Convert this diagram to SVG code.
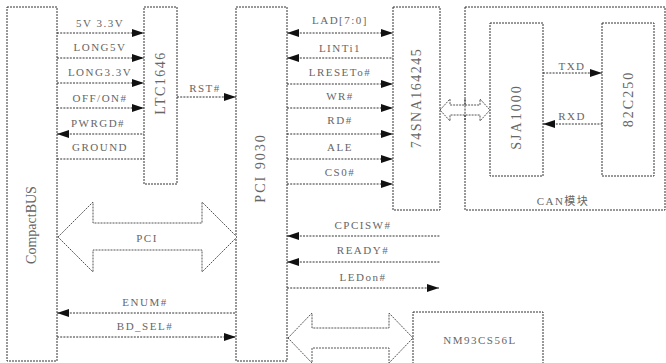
<svg xmlns="http://www.w3.org/2000/svg" width="666" height="363" viewBox="0 0 666 363">
<style>
.box{fill:none;stroke:#333;stroke-width:1;stroke-dasharray:2 1}
.ln{fill:none;stroke:#333;stroke-width:1;stroke-dasharray:2 1.2}
.bus{fill:#fff;stroke:#555;stroke-width:1;stroke-dasharray:2 1}
.t{font-family:"Liberation Serif","Noto Sans CJK SC",serif;font-size:11px;letter-spacing:1.5px;fill:#666;text-anchor:middle}
.v{font-family:"Liberation Serif",serif;font-size:14px;fill:#666;text-anchor:middle}
</style>
<defs>
<marker id="ah" viewBox="0 0 12 8" refX="12" refY="4" markerWidth="12" markerHeight="8" markerUnits="userSpaceOnUse" orient="auto-start-reverse">
<path d="M0,0 L12,4 L0,8 z" fill="#111"/>
</marker>
</defs>
<rect width="666" height="363" fill="#fff"/>

<g id="compactbus">
<rect class="box" x="7" y="7" width="50" height="354"/>
<text class="v" transform="translate(36,225) rotate(-90)">CompactBUS</text>
</g>
<g id="ltc1646">
<rect class="box" x="144" y="7" width="33" height="177"/>
<text class="v" letter-spacing="1.5" transform="translate(165,83) rotate(-90)">LTC1646</text>
</g>
<g id="pci9030">
<rect class="box" x="236" y="7" width="51" height="354"/>
<text class="v" letter-spacing="2" transform="translate(265,168) rotate(-90)">PCI 9030</text>
</g>
<g id="sna164245">
<rect class="box" x="393" y="7" width="47" height="203"/>
<text class="v" letter-spacing="1.5" transform="translate(421,98) rotate(-90)">74SNA164245</text>
</g>
<g id="canmodule">
<rect class="box" x="465" y="7" width="200" height="203"/>
<text class="t" x="563" y="205" font-size="13">CAN模块</text>
</g>
<g id="sja1000">
<rect class="box" x="490" y="23" width="53" height="153"/>
<text class="v" letter-spacing="2" transform="translate(521,117) rotate(-90)">SJA1000</text>
</g>
<g id="c82c250">
<rect class="box" x="602" y="23" width="52" height="153"/>
<text class="v" letter-spacing="2" transform="translate(633,99) rotate(-90)">82C250</text>
</g>
<g id="nm93cs56l">
<rect class="box" x="413" y="312" width="130" height="52"/>
<text class="t" x="480" y="344" font-size="12" letter-spacing="2">NM93CS56L</text>
</g>

<g id="connectors">
<line class="ln" x1="57" y1="33" x2="144" y2="33" marker-end="url(#ah)"/>
<line class="ln" x1="57" y1="58" x2="144" y2="58" marker-end="url(#ah)"/>
<line class="ln" x1="57" y1="83" x2="144" y2="83" marker-end="url(#ah)"/>
<line class="ln" x1="57" y1="108" x2="144" y2="108" marker-end="url(#ah)"/>
<line class="ln" x1="57" y1="134" x2="144" y2="134" marker-start="url(#ah)"/>
<line class="ln" x1="57" y1="159" x2="144" y2="159"/>
<line class="ln" x1="177" y1="97" x2="236" y2="97" marker-end="url(#ah)"/>
<line class="ln" x1="287" y1="33" x2="393" y2="33" marker-start="url(#ah)" marker-end="url(#ah)"/>
<line class="ln" x1="287" y1="58" x2="393" y2="58" marker-start="url(#ah)"/>
<line class="ln" x1="287" y1="84" x2="393" y2="84" marker-end="url(#ah)"/>
<line class="ln" x1="287" y1="108" x2="393" y2="108" marker-end="url(#ah)"/>
<line class="ln" x1="287" y1="134" x2="393" y2="134" marker-end="url(#ah)"/>
<line class="ln" x1="287" y1="159" x2="393" y2="159" marker-end="url(#ah)"/>
<line class="ln" x1="287" y1="184" x2="393" y2="184" marker-end="url(#ah)"/>
<line class="ln" x1="543" y1="73" x2="602" y2="73" marker-end="url(#ah)"/>
<line class="ln" x1="543" y1="124" x2="602" y2="124" marker-start="url(#ah)"/>
<line class="ln" x1="287" y1="236" x2="440" y2="236" marker-start="url(#ah)"/>
<line class="ln" x1="287" y1="262" x2="440" y2="262" marker-start="url(#ah)"/>
<line class="ln" x1="287" y1="288" x2="439" y2="288" marker-end="url(#ah)"/>
<line class="ln" x1="57" y1="313" x2="236" y2="313" marker-start="url(#ah)"/>
<line class="ln" x1="57" y1="337" x2="236" y2="337" marker-end="url(#ah)"/>
<path class="bus" d="M58,237 L93,202 L93,223 L202,223 L202,202 L237,237 L202,272 L202,250 L93,250 L93,272 Z"/>
<path class="bus" d="M288,338 L312,313 L312,328 L389,328 L389,313 L413,338 L389,363 L389,348 L312,348 L312,363 Z"/>
<path class="bus" d="M440,110 L450,99 L450,105 L480,105 L480,99 L490,110 L480,121 L480,115 L450,115 L450,121 Z"/>
<line class="ln" x1="465" y1="99" x2="465" y2="121"/>
</g>

<g id="labels">
<text class="t" x="100" y="27">5V  3.3V</text>
<text class="t" x="100" y="51">LONG5V</text>
<text class="t" x="100" y="76">LONG3.3V</text>
<text class="t" x="100" y="102">OFF/ON#</text>
<text class="t" x="98" y="127">PWRGD#</text>
<text class="t" x="100" y="151">GROUND</text>
<text class="t" x="205" y="92">RST#</text>
<text class="t" x="340" y="24">LAD[7:0]</text>
<text class="t" x="340" y="52">LINTi1</text>
<text class="t" x="340" y="76">LRESETo#</text>
<text class="t" x="340" y="100">WR#</text>
<text class="t" x="340" y="124">RD#</text>
<text class="t" x="340" y="151">ALE</text>
<text class="t" x="340" y="176">CS0#</text>
<text class="t" x="572" y="70">TXD</text>
<text class="t" x="572" y="120">RXD</text>
<text class="t" x="363" y="229">CPCISW#</text>
<text class="t" x="363" y="254">READY#</text>
<text class="t" x="363" y="281">LEDon#</text>
<text class="t" x="147" y="242" font-size="13">PCI</text>
<text class="t" x="145" y="306">ENUM#</text>
<text class="t" x="145" y="330">BD_SEL#</text>
</g>
</svg>
